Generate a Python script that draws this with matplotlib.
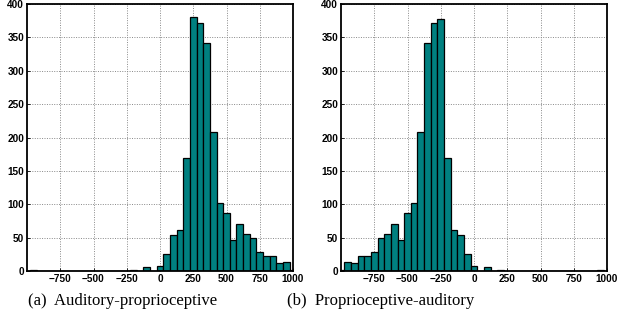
import numpy as np
import matplotlib
matplotlib.use("Agg")
import matplotlib.pyplot as plt

# Bin centres (ms), width 50
centers = list(range(-1000, 1001, 50))

# Auditory-proprioceptive counts (per bin centre)
counts_a = {
    -1000: 0, -950: 2, -200: 2, -100: 6, -50: 0, 0: 8, 50: 26, 100: 54, 150: 62,
    200: 170, 250: 380, 300: 371, 350: 342, 400: 208, 450: 102, 500: 87,
    550: 47, 600: 71, 650: 55, 700: 49, 750: 28, 800: 22, 850: 23,
    900: 12, 950: 13, 1000: 2,
}
# Proprioceptive-auditory counts (per bin centre)
counts_b = {
    -1000: 2, -950: 13, -900: 12, -850: 23, -800: 22, -750: 28, -700: 49,
    -650: 55, -600: 71, -550: 47, -500: 87, -450: 102, -400: 208,
    -350: 342, -300: 371, -250: 378, -200: 169, -150: 62, -100: 54,
    -50: 26, 0: 8, 50: 0, 100: 6, 150: 0, 200: 2, 950: 2,
}
values_a = [counts_a.get(c, 0) for c in centers]
values_b = [counts_b.get(c, 0) for c in centers]

xticks = [-750, -500, -250, 0, 250, 500, 750, 1000]
xticklabels = ["\u2212750", "\u2212500", "\u2212250", "0", "250", "500", "750", "1000"]
yticks = list(range(0, 401, 50))
captions = ["(a)  Auditory-proprioceptive", "(b)  Proprioceptive-auditory"]

fig = plt.figure(figsize=(6.28, 3.24), dpi=100)
axes_pos = [[27/628, 1-271/324, 266/628, 267/324],
            [341/628, 1-271/324, 266/628, 267/324]]
cap_x = [28/628, 287/628]

for pos, vals, cap, cx in zip(axes_pos, [values_a, values_b], captions, cap_x):
    ax = fig.add_axes(pos)
    ax.bar(centers, vals, width=50, color="#008080", edgecolor="black",
           linewidth=0.9, zorder=3)
    ax.set_xlim(-1000, 1000)
    ax.set_ylim(0, 400)
    ax.set_xticks(xticks)
    ax.set_xticklabels(xticklabels)
    ax.set_yticks(yticks)
    for lab in ax.get_xticklabels() + ax.get_yticklabels():
        lab.set_fontfamily("Liberation Sans")
        lab.set_fontweight("bold")
        lab.set_fontsize(7.2)
    ax.tick_params(direction="in", length=2.5, width=0.6, pad=2)
    ax.grid(True, linestyle=(0, (1, 1.5)), color="#888888", linewidth=0.7, zorder=0)
    for s in ax.spines.values():
        s.set_linewidth(1.3)
        s.set_zorder(4)
    fig.text(cx, 1-301/324, cap, family="Liberation Serif", fontsize=12,
             ha="left", va="center")

fig.savefig("out.png", dpi=100)
